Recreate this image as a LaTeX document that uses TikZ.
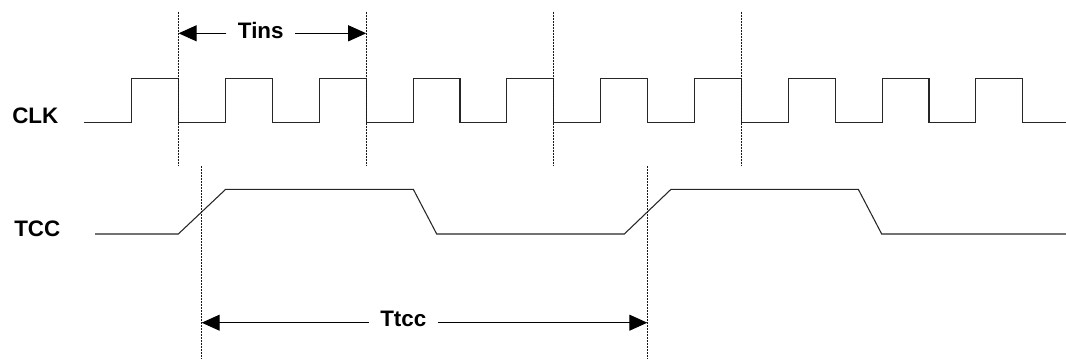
\documentclass[tikz,border=0pt]{standalone}
\usepackage{fontspec}
\setmainfont{Liberation Sans}
\usetikzlibrary{arrows.meta}
\tikzset{
  wave/.style={line width=0.8pt, black!85, line join=miter},
  guide/.style={line width=0.7pt, black!90, dash pattern=on 1.5pt off 0.75pt},
  dim/.style={line width=0.75pt, black, -{Triangle[length=13.5pt,width=12pt]}},
  lbl/.style={font=\fontsize{16.8}{20}\selectfont\bfseries, inner sep=0pt, anchor=base west},
  dimlbl/.style={font=\fontsize{16.8}{20}\selectfont\bfseries, inner ysep=0pt, inner xsep=8.5pt, anchor=base}
}
\begin{document}
\begin{tikzpicture}[x=0.75pt, y=-0.75pt]
\useasboundingbox (0,0) rectangle (1066,359);
% labels
\node[lbl] (clk) at (12,123.3) {CLK};
\node[lbl] (tcc) at (14,236.7) {TCC};
% CLK waveform
\draw[wave] (84,122.7) -- (131.7,122.7)
  foreach \k in {1,...,9} { -- ++(0,-44.4) -- ++(46.9,0) -- ++(0,44.4) -- ++(46.9,0) }
  -- ++(0,-44.4) -- ++(46.9,0) -- ++(0,44.4) -- (1066,122.7);
% TCC waveform
\draw[wave] (95,234) -- (178.3,234) -- (225.7,189.3) -- (413.3,189.3) -- (436.7,234)
  -- (624.3,234) -- (671,189.3) -- (858.3,189.3) -- (881.7,234) -- (1066,234);
% guide lines
\foreach \x in {178.6,366.2,553.8,741.4} \draw[guide] (\x,11.7) -- (\x,166);
\foreach \x in {201.7,647.3} \draw[guide] (\x,166) -- (\x,359);
% Tins dimension
\coordinate (tinsL) at (178.6,33.3);
\coordinate (tinsR) at (366.2,33.3);
\node[dimlbl] (tins) at (260.8,39) {Tins};
\draw[dim] (tins.west |- tinsL) -- (tinsL);
\draw[dim] (tins.east |- tinsR) -- (tinsR);
% Ttcc dimension
\coordinate (ttccL) at (201.7,322.7);
\coordinate (ttccR) at (647.3,322.7);
\node[dimlbl] (ttcc) at (403.3,326.7) {Ttcc};
\draw[dim] (ttcc.west |- ttccL) -- (ttccL);
\draw[dim] (ttcc.east |- ttccR) -- (ttccR);
\end{tikzpicture}
\end{document}
